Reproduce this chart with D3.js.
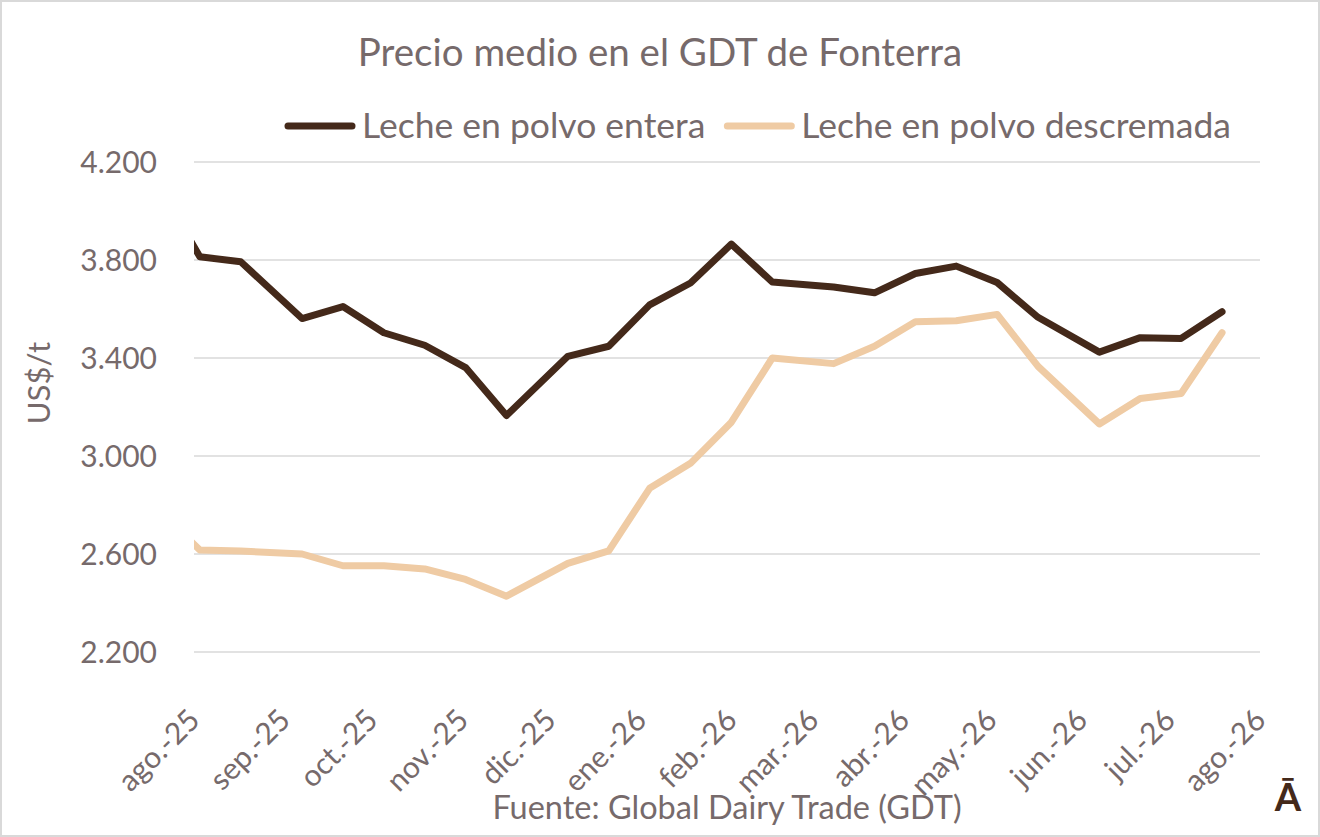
<!DOCTYPE html>
<html>
<head>
<meta charset="utf-8">
<script src="https://cdn.jsdelivr.net/npm/d3@7/dist/d3.min.js"></script>
<style>
  html, body { margin: 0; padding: 0; background: #fff; }
  svg text { font-family: Lato, "Noto Sans", sans-serif; fill: #766a6b; }
</style>
</head>
<body>
<script>
// GDT auction dates (first one sits before the axis start and is clipped)
var fechas = ["2025-07-20","2025-08-03","2025-08-17","2025-09-07","2025-09-21","2025-10-05",
  "2025-10-19","2025-11-02","2025-11-16","2025-12-07","2025-12-21","2026-01-04","2026-01-18",
  "2026-02-01","2026-02-15","2026-03-08","2026-03-22","2026-04-05","2026-04-19","2026-05-03",
  "2026-05-17","2026-06-07","2026-06-21","2026-07-05","2026-07-19"];

// US$/t
var lecheEntera = [4100, 3813, 3793, 3561, 3610, 3503, 3452, 3361, 3165, 3407, 3448, 3617, 3706,
  3865, 3710, 3690, 3666, 3745, 3775, 3708, 3566, 3424, 3483, 3480, 3589];
var lecheDescremada = [2780, 2616, 2612, 2600, 2552, 2552, 2539, 2496, 2428, 2562, 2613, 2868, 2970,
  3138, 3400, 3377, 3448, 3548, 3552, 3578, 3366, 3131, 3235, 3255, 3503];

var series = ["Leche en polvo entera", "Leche en polvo descremada"];
var colores = ["#44291a", "#efcba4"];

var etiquetasMes = ["ago.-25","sep.-25","oct.-25","nov.-25","dic.-25","ene.-26","feb.-26",
  "mar.-26","abr.-26","may.-26","jun.-26","jul.-26","ago.-26"];
var yTicks = [2200, 2600, 3000, 3400, 3800, 4200];

//Size Globals:
var width = 1320, height = 837;
var plot = {left: 194, right: 1260, top: 162, bottom: 652};

var parse = d3.timeParse("%Y-%m-%d");
var locale = d3.formatLocale({decimal: ",", thousands: ".", grouping: [3], currency: ["", "$"]});
var fmt = locale.format(",.0f");

var svg = d3.select("body").append("svg")
    .attr("width", width)
    .attr("height", height);

svg.append("rect")
    .attr("x", 1).attr("y", 1)
    .attr("width", width - 2).attr("height", height - 2)
    .attr("fill", "#fff")
    .attr("stroke", "#d9d9d9")
    .attr("stroke-width", 2);

var x = d3.scaleTime()
    .domain([parse("2025-08-01"), parse("2026-08-01")])
    .range([plot.left, plot.right]);
var y = d3.scaleLinear()
    .domain([2200, 4200])
    .range([plot.bottom, plot.top]);

//Gridlines
svg.append("g").selectAll("line")
    .data(yTicks)
    .join("line")
    .attr("x1", plot.left).attr("x2", plot.right)
    .attr("y1", d => y(d)).attr("y2", d => y(d))
    .attr("stroke", "#d9d9d9")
    .attr("stroke-width", 1.5);

//Y axis labels
var yAxis = svg.append("g")
    .attr("transform", "translate(" + (plot.left - 37) + ",0)")
    .call(d3.axisLeft(y).tickValues(yTicks).tickFormat(fmt).tickSize(0).tickPadding(0));
yAxis.select(".domain").remove();
yAxis.selectAll("text")
    .attr("dy", "0.35em")
    .style("font-size", "30px");

svg.append("text")
    .attr("transform", "translate(50," + ((plot.top + plot.bottom) / 2 - 24) + ") rotate(-90)")
    .attr("text-anchor", "middle")
    .style("font-size", "31px")
    .text("US$/t");

//X axis labels
var meses = d3.timeMonth.range(parse("2025-08-01"), d3.timeDay.offset(parse("2026-08-01"), 1));
var xAxis = svg.append("g")
    .attr("transform", "translate(0," + plot.bottom + ")")
    .call(d3.axisBottom(x).tickValues(meses).tickFormat((d, i) => etiquetasMes[i]).tickSize(0));
xAxis.select(".domain").remove();
xAxis.selectAll("text")
    .attr("text-anchor", "end")
    .attr("dy", null)
    .attr("y", 0)
    .attr("transform", "translate(7,70) rotate(-45)")
    .style("font-size", "30px");

//Lines
svg.append("clipPath").attr("id", "clip")
  .append("rect")
    .attr("x", plot.left).attr("y", 0)
    .attr("width", plot.right - plot.left).attr("height", height);

var line = d3.line()
    .x(d => x(d.fecha))
    .y(d => y(d.valor));

[lecheDescremada, lecheEntera].forEach(function(vals, k) {
    var datos = fechas.map((f, i) => ({fecha: parse(f), valor: vals[i]}));
    svg.append("path")
        .datum(datos)
        .attr("clip-path", "url(#clip)")
        .attr("fill", "none")
        .attr("stroke", colores[1 - k])
        .attr("stroke-width", 7)
        .attr("stroke-linejoin", "round")
        .attr("stroke-linecap", "round")
        .attr("d", line);
});

//Title
svg.append("text")
    .attr("x", 660).attr("y", 66)
    .attr("text-anchor", "middle")
    .style("font-size", "38.5px")
    .text("Precio medio en el GDT de Fonterra");

//Legend
var lx = 288;
series.forEach(function(s, i) {
    var g = svg.append("g").attr("transform", "translate(" + lx + ",126)");
    g.append("line")
        .attr("x1", 0).attr("x2", 64)
        .attr("stroke", colores[i])
        .attr("stroke-width", 7)
        .attr("stroke-linecap", "round");
    var t = g.append("text")
        .attr("x", 74).attr("y", 12)
        .style("font-size", "35.5px")
        .text(s);
    lx += 74 + t.node().getComputedTextLength() + 22;
});

//Source
svg.append("text")
    .attr("x", 727).attr("y", 819)
    .attr("text-anchor", "middle")
    .style("font-size", "32.5px")
    .text("Fuente: Global Dairy Trade (GDT)");

//Logo mark
svg.append("text")
    .attr("x", 1288).attr("y", 811)
    .attr("text-anchor", "middle")
    .style("font-size", "38px")
    .style("font-weight", "bold")
    .style("fill", "#44291a")
    .text("Ā");
</script>
</body>
</html>
